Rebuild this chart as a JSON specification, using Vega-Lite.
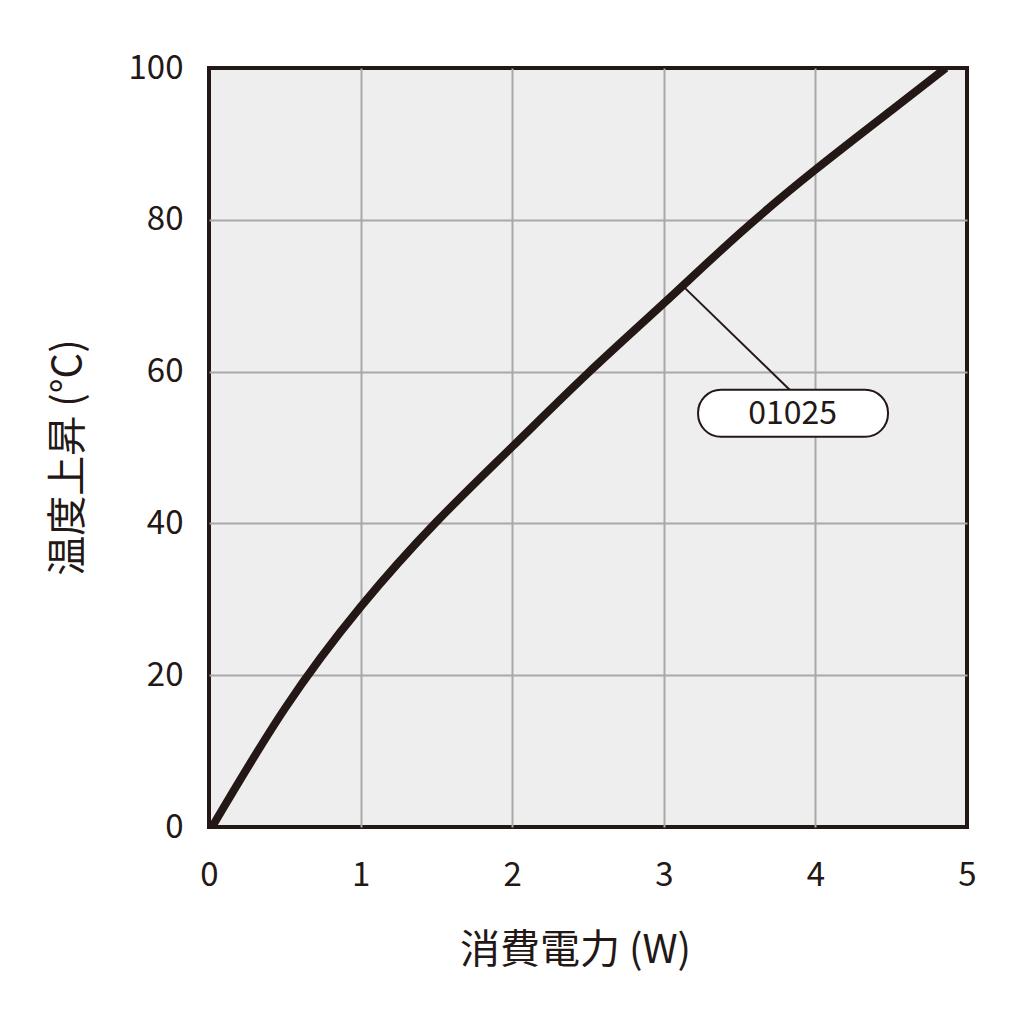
{
  "$schema": "https://vega.github.io/schema/vega-lite/v6.json",
  "autosize": {"type": "none"},
  "width": 758,
  "height": 759,
  "padding": {"left": 209, "top": 68, "right": 57, "bottom": 197},
  "background": "#ffffff",
  "datasets": {
    "curve": [
      {"power": 0.02, "rise": 0.0},
      {"power": 0.5, "rise": 15.6},
      {"power": 1.0, "rise": 29.0},
      {"power": 1.5, "rise": 40.2},
      {"power": 2.0, "rise": 50.1},
      {"power": 2.5, "rise": 59.8},
      {"power": 3.0, "rise": 69.0},
      {"power": 3.5, "rise": 78.2},
      {"power": 4.0, "rise": 86.6},
      {"power": 4.5, "rise": 94.4},
      {"power": 4.86, "rise": 100.0}
    ],
    "leader": [
      {"power": 3.14, "rise": 71.0},
      {"power": 3.83, "rise": 57.6}
    ],
    "label": [
      {"x1": 3.226, "x2": 4.479, "y1": 51.4, "y2": 57.6, "xc": 3.85, "yc": 54.5, "name": "01025"}
    ]
  },
  "layer": [
    {
      "data": {"name": "curve"},
      "mark": {"type": "line", "color": "#231815", "strokeWidth": 8, "interpolate": "natural", "strokeCap": "butt", "clip": true},
      "encoding": {
        "x": {
          "field": "power",
          "type": "quantitative",
          "title": "消費電力 (W)",
          "scale": {"domain": [0, 5], "nice": false, "zero": false},
          "axis": {
            "values": [0, 1, 2, 3, 4, 5],
            "format": "d",
            "ticks": false,
            "domain": false,
            "labelFlush": false,
            "labelPadding": 32,
            "titlePadding": 38,
            "titleX": 366,
            "gridOpacity": {"condition": {"test": "datum.value == 0 || datum.value == 5", "value": 0}, "value": 1}
          }
        },
        "y": {
          "field": "rise",
          "type": "quantitative",
          "title": "温度上昇 (°C)",
          "scale": {"domain": [0, 100], "nice": false, "zero": false},
          "axis": {
            "values": [0, 20, 40, 60, 80, 100],
            "ticks": false,
            "domain": false,
            "labelFlush": false,
            "labelPadding": 26,
            "titlePadding": 40,
            "titleY": 389,
            "gridOpacity": {"condition": {"test": "datum.value == 0 || datum.value == 100", "value": 0}, "value": 1}
          }
        }
      }
    },
    {
      "data": {"name": "leader"},
      "mark": {"type": "line", "color": "#231815", "strokeWidth": 2},
      "encoding": {
        "x": {"field": "power", "type": "quantitative"},
        "y": {"field": "rise", "type": "quantitative"}
      }
    },
    {
      "data": {"name": "label"},
      "mark": {"type": "rect", "fill": "#ffffff", "stroke": "#231815", "strokeWidth": 2, "cornerRadius": 23},
      "encoding": {
        "x": {"field": "x1", "type": "quantitative"},
        "x2": {"field": "x2"},
        "y": {"field": "y1", "type": "quantitative"},
        "y2": {"field": "y2"}
      }
    },
    {
      "data": {"name": "label"},
      "mark": {"type": "text", "font": "Noto Sans CJK JP", "fontSize": 32, "color": "#231815", "align": "center", "baseline": "middle", "dy": 1},
      "encoding": {
        "x": {"field": "xc", "type": "quantitative"},
        "y": {"field": "yc", "type": "quantitative"},
        "text": {"field": "name"}
      }
    }
  ],
  "config": {
    "view": {"fill": "#eeeeee", "stroke": "#231815", "strokeWidth": 4},
    "axis": {
      "grid": true,
      "gridColor": "#a8a8a8",
      "gridWidth": 2,
      "labelFont": "Noto Sans CJK JP",
      "labelFontSize": 33,
      "labelColor": "#231815",
      "titleFont": "Noto Sans CJK JP",
      "titleFontSize": 40,
      "titleFontWeight": "normal",
      "titleColor": "#231815"
    }
  }
}
